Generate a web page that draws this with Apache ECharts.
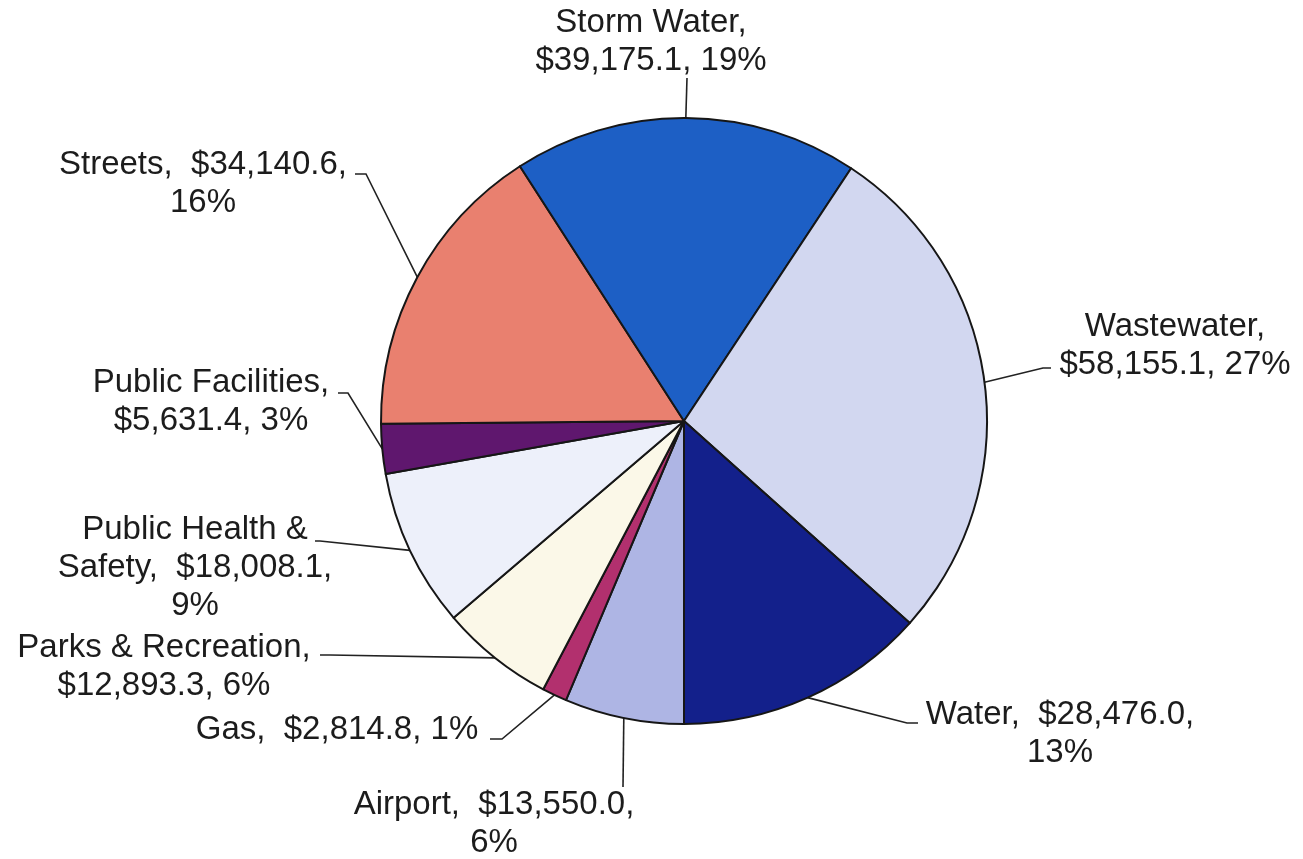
<!DOCTYPE html>
<html><head><meta charset="utf-8">
<script src="https://cdn.jsdelivr.net/npm/echarts@6/dist/echarts.min.js"></script>
<style>html,body{margin:0;padding:0;background:#fff}#chart{width:1303px;height:859px}</style>
</head><body><div id="chart"></div>
<script>
// Data (clockwise from 6 o'clock)
const categories = ['Airport', 'Gas', 'Parks & Recreation', 'Public Health & Safety', 'Public Facilities', 'Streets', 'Storm Water', 'Wastewater', 'Water'];
const amounts = [13550.0, 2814.8, 12893.3, 18008.1, 5631.4, 34140.6, 39175.1, 58155.1, 28476.0];
const labelPercents = [6, 1, 6, 9, 3, 16, 19, 27, 13];

// Styles
const sliceColors = ['#aeb5e4', '#b2306e', '#fbf8e8', '#edf0fa', '#5f176e', '#e9806f', '#1d5fc5', '#d2d7f0', '#13208b'];
const labelTemplates = [
  '{n},  {v},\n{p}',
  '{n},  {v}, {p}',
  '{n},\n{v}, {p}',
  'Public Health &\nSafety,  {v},\n{p}',
  '{n},\n{v}, {p}',
  '{n},  {v},\n{p}',
  '{n},\n{v}, {p}',
  '{n},\n{v}, {p}',
  '{n},  {v},\n{p}'
];
// Label layout: [centerX, topY]
const labelBoxes = [[494, 786], [337, 711], [164, 629], [195, 511], [211, 364], [203, 146], [651, 4], [1175, 308], [1060, 696]];
// Leader lines: [elbow, end]
const leaderPaths = [
  [[623, 787], [623, 787]],
  [[502, 739], [490, 739]],
  [[330, 655], [320, 655]],
  [[320, 541], [315, 541]],
  [[348, 393], [338, 393]],
  [[366, 174], [355, 174]],
  [[687, 78], [687, 78]],
  [[1043, 368], [1051, 368]],
  [[907, 723], [918, 723]]
];
const pieCenter = [684, 421];
const pieRadius = 303;

function fmtMoney(v) {
  return '$' + v.toLocaleString('en-US', {minimumFractionDigits: 1, maximumFractionDigits: 1});
}

const chart = echarts.init(document.getElementById('chart'), null, {renderer: 'canvas'});
chart.setOption({
  backgroundColor: '#ffffff',
  animation: false,
  series: [{
    type: 'pie',
    center: pieCenter,
    radius: pieRadius,
    startAngle: -90,
    clockwise: true,
    avoidLabelOverlap: false,
    minShowLabelAngle: 0,
    emphasis: {disabled: true},
    data: categories.map((c, i) => ({name: c, value: amounts[i], itemStyle: {color: sliceColors[i]}})),
    itemStyle: {borderColor: '#161616', borderWidth: 2},
    label: {
      show: true,
      position: 'outside',
      fontFamily: 'Liberation Sans, Arial, sans-serif',
      fontSize: 33,
      lineHeight: 38,
      color: '#1c1c1c',
      formatter: p => labelTemplates[p.dataIndex]
        .replace('{n}', p.name)
        .replace('{v}', fmtMoney(p.value))
        .replace('{p}', labelPercents[p.dataIndex] + '%')
    },
    labelLine: {show: true, length: 10, length2: 10, smooth: false, lineStyle: {color: '#222', width: 1.6}}
  }]
});
chart.setOption({
  series: [{
    labelLayout: function (params) {
      const i = params.dataIndex;
      const b = labelBoxes[i];
      const lp = leaderPaths[i];
      let start = params.labelLinePoints && params.labelLinePoints[0];
      return {
        x: b[0], y: b[1], align: 'center', verticalAlign: 'top',
        labelLinePoints: [[start[0], start[1]], lp[0], lp[1]]
      };
    }
  }]
});
</script></body></html>
